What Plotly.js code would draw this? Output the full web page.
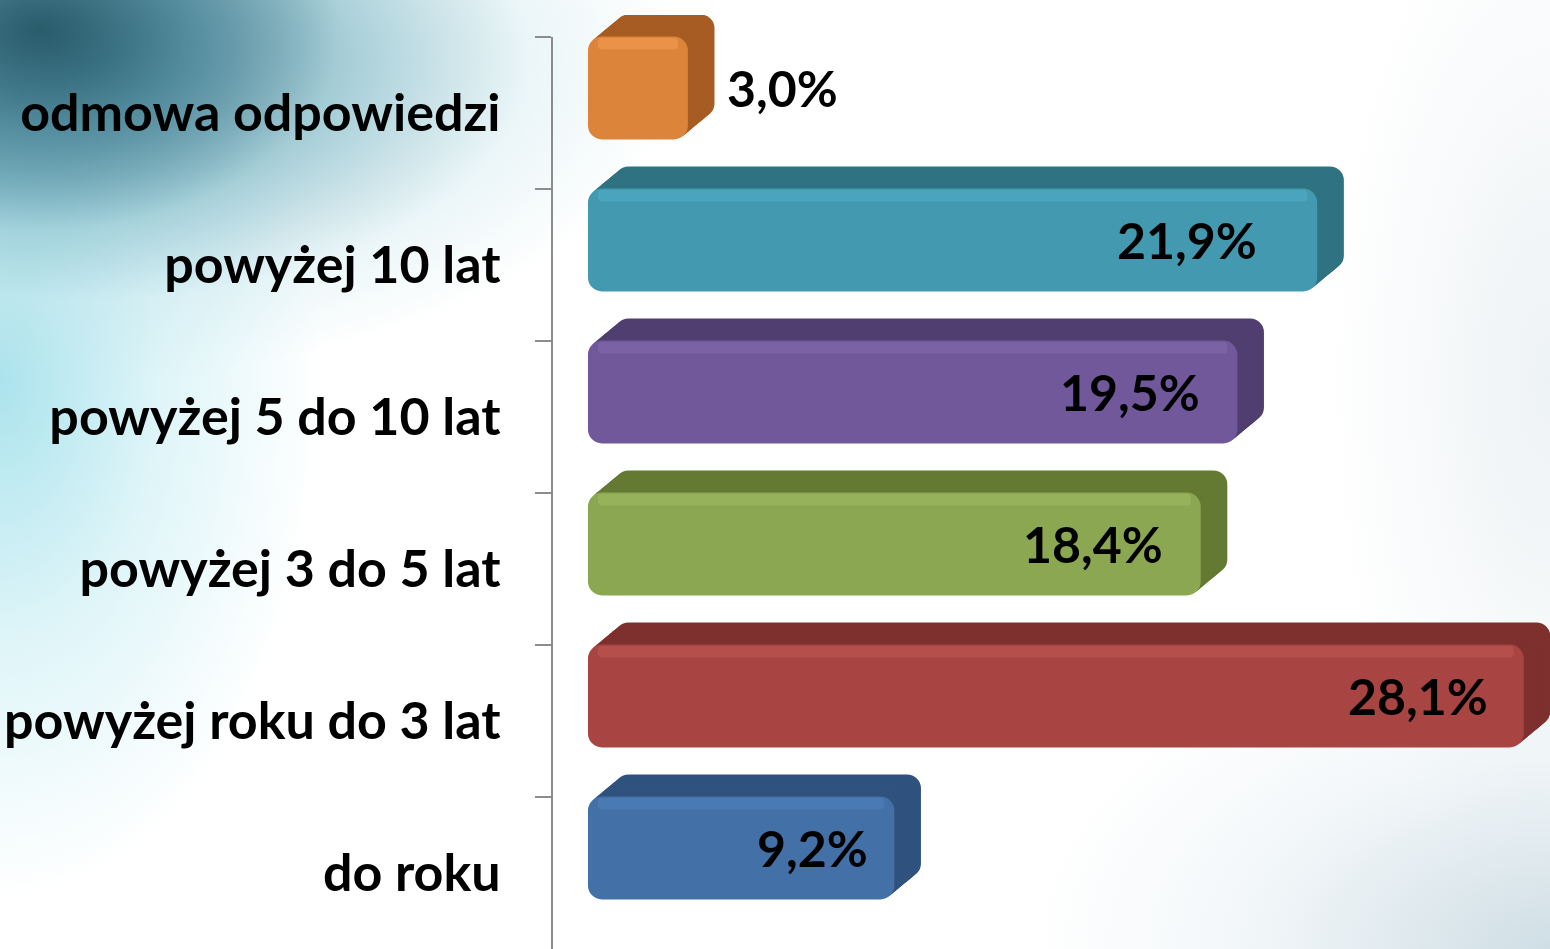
<!DOCTYPE html>
<html>
<head>
<meta charset="utf-8">
<script src="https://cdn.plot.ly/plotly-3.0.1.min.js"></script>
<style>
html,body{margin:0;padding:0;width:1550px;height:949px;overflow:hidden;}
body{
  background:
    radial-gradient(ellipse 300px 200px at 40px 30px, rgba(35,85,100,0.9) 0%, rgba(60,120,140,0.6) 50%, rgba(255,255,255,0) 100%),
    radial-gradient(ellipse 600px 320px at 80px 60px, rgba(60,125,145,0.85) 0%, rgba(110,175,190,0.6) 45%, rgba(190,225,232,0.3) 75%, rgba(255,255,255,0) 100%),
    radial-gradient(ellipse 320px 520px at 0px 380px, rgba(150,220,232,0.8) 0%, rgba(190,235,242,0.5) 50%, rgba(255,255,255,0) 100%),
    radial-gradient(ellipse 520px 320px at 1550px 949px, rgba(175,200,212,0.6) 0%, rgba(220,232,238,0.35) 60%, rgba(255,255,255,0) 100%),
    radial-gradient(ellipse 220px 520px at 1550px 380px, rgba(205,218,224,0.35) 0%, rgba(255,255,255,0) 100%),
    #ffffff;
}
#chart{width:1550px;height:949px;}
</style>
</head>
<body>
<div id="chart"></div>
<script>
// ---- data ----
const categories = ['odmowa odpowiedzi', 'powyżej 10 lat', 'powyżej 5 do 10 lat', 'powyżej 3 do 5 lat', 'powyżej roku do 3 lat', 'do roku'];
const values = [3.0, 21.9, 19.5, 18.4, 28.1, 9.2];
const valueLabels = ['3,0%', '21,9%', '19,5%', '18,4%', '28,1%', '9,2%'];

// ---- styles ----
const faceColors = ['#DC8439', '#4399B0', '#70589A', '#8BA752', '#A84542', '#4470A8'];
const topColors  = ['#F09A50', '#4EAAC4', '#8068AA', '#9DBA62', '#BC5552', '#4F80BA'];
const darkColors = ['#A65C22', '#2F7282', '#503E70', '#647A32', '#7E302E', '#30527F'];
const labelShiftPx = [37, -58, -35, -36, -34, -24];   // label placement (pixels from bar end)

const barWidth = 0.677;    // category units
const faceOffset = -0.503; // shift of front face upward
const depthX = 0.8;        // depth in value units
const depthY = 0.145;      // depth in category units
const steps = 10;

const fontFam = 'Lato, "Open Sans", sans-serif';

// layout geometry
const H = 949, TOP = 15, AXIS_TOP = 37;
const plotH = H - TOP;
const axisDomainTop = (H - AXIS_TOP) / plotH;
const catPx = (H - AXIS_TOP) / categories.length;
const extraTop = (AXIS_TOP - TOP) / catPx;

const traces = [];
for (let k = steps; k >= 1; k--) {
  traces.push({
    type: 'bar', orientation: 'h', xaxis: 'x2', yaxis: 'y2',
    y: categories, x: values,
    base: values.map(() => depthX * k / steps),
    offset: faceOffset - depthY * k / steps,
    width: barWidth,
    marker: {color: darkColors, cornerradius: 14, line: {width: 0}},
    hoverinfo: 'skip', showlegend: false
  });
}
// front face
traces.push({
  type: 'bar', orientation: 'h', xaxis: 'x2', yaxis: 'y2',
  y: categories, x: values,
  base: 0,
  offset: faceOffset,
  width: barWidth,
  marker: {color: faceColors, cornerradius: 14, line: {width: 0}},
  hoverinfo: 'skip', showlegend: false
});
// highlight strip near top of face
traces.push({
  type: 'bar', orientation: 'h', xaxis: 'x2', yaxis: 'y2',
  y: categories, x: values.map(v => v - 0.6),
  base: 0.3,
  offset: faceOffset + 0.01,
  width: 0.075,
  marker: {color: topColors, cornerradius: 4, line: {width: 0}, opacity: 0.65},
  hoverinfo: 'skip', showlegend: false
});
// invisible carrier for the category axis
traces.push({
  type: 'scatter', mode: 'markers', xaxis: 'x', yaxis: 'y',
  y: categories, x: values,
  marker: {opacity: 0}, hoverinfo: 'skip', showlegend: false
});

const annotations = categories.map((c, i) => {
  const shift = labelShiftPx[i];
  return {
    x: values[i], y: c, xref: 'x2', yref: 'y2',
    text: valueLabels[i], showarrow: false,
    xanchor: shift < 0 ? 'right' : 'left',
    yanchor: 'middle',
    xshift: shift,
    yshift: 25,
    font: {family: fontFam, size: 50, color: '#000000', weight: 'bold'}
  };
});

const xr = [-1.05, 28.89];
const layout = {
  width: 1550, height: H,
  margin: {l: 553, r: 0, t: TOP, b: 0, pad: 0},
  paper_bgcolor: 'rgba(0,0,0,0)',
  plot_bgcolor: 'rgba(0,0,0,0)',
  barmode: 'overlay',
  showlegend: false,
  xaxis: {range: xr, visible: false, fixedrange: true, domain: [0, 1], anchor: 'y'},
  yaxis: {
    type: 'category', anchor: 'x',
    domain: [0, axisDomainTop],
    categoryorder: 'array', categoryarray: categories,
    range: [5.5, -0.5],
    showline: true, linecolor: '#8C8C8C', linewidth: 2,
    ticks: 'outside', tickson: 'boundaries', ticklen: 16, tickwidth: 2, tickcolor: '#8C8C8C',
    ticklabelstandoff: 40,
    showgrid: false, zeroline: false, automargin: false,
    tickfont: {family: fontFam, size: 52, color: '#000000', weight: 'bold'}
  },
  xaxis2: {range: xr, visible: false, fixedrange: true, domain: [0, 1], anchor: 'y2'},
  yaxis2: {
    type: 'category', anchor: 'x2',
    domain: [0, 1],
    categoryorder: 'array', categoryarray: categories,
    range: [5.5, -0.5 - extraTop],
    visible: false, showgrid: false, zeroline: false
  },
  annotations: annotations
};

Plotly.newPlot('chart', traces, layout, {displayModeBar: false, staticPlot: true});
</script>
</body>
</html>
